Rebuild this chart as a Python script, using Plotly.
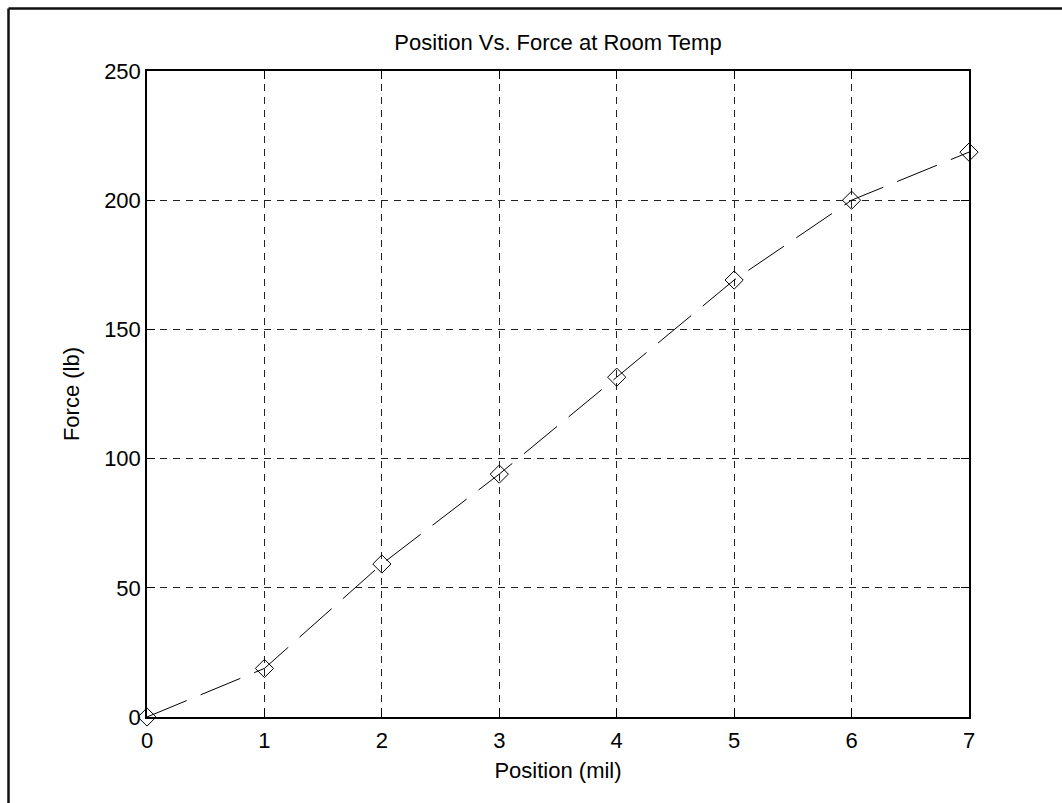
import plotly.graph_objects as go

# Measured force at each position step
position_mil = [0, 1, 2, 3, 4, 5, 6, 7]
force_lb = [0, 18.8, 59.2, 94.0, 131.5, 169.1, 200.0, 218.6]

x_ticks = [0, 1, 2, 3, 4, 5, 6, 7]
y_ticks = [0, 50, 100, 150, 200, 250]

FONT = "Liberation Sans, Arial, Helvetica, sans-serif"
W, H = 1062, 803
L, R, T, B = 147, 93, 71, 86

fig = go.Figure()
fig.add_trace(go.Scatter(
    x=position_mil,
    y=force_lb,
    mode="lines+markers",
    line=dict(color="black", width=1, dash="43px,15px"),
    marker=dict(symbol="diamond-open", size=14, color="black", line=dict(width=1, color="black")),
    cliponaxis=False,
    showlegend=False,
))

axis_common = dict(
    showline=True,
    linecolor="black",
    linewidth=1.5,
    mirror="ticks",
    ticks="inside",
    ticklen=8,
    tickwidth=1,
    tickcolor="black",
    showgrid=True,
    gridcolor="#222222",
    gridwidth=1,
    griddash="7px,6px",
    zeroline=False,
    tickfont=dict(family=FONT, size=22, color="black"),
)

fig.update_xaxes(
    range=[0, 7],
    tickvals=x_ticks,
    ticktext=[str(v) for v in x_ticks],
    ticklabelstandoff=3,
    title=dict(text="Position (mil)", font=dict(family=FONT, size=22, color="black"), standoff=10),
    **axis_common,
)
fig.update_yaxes(
    range=[0, 250],
    tickvals=y_ticks,
    ticktext=[str(v) for v in y_ticks],
    title=dict(text="Force (lb)", font=dict(family=FONT, size=22, color="black"), standoff=18),
    **axis_common,
)

fig.update_layout(
    width=W,
    height=H,
    margin=dict(l=L, r=R, t=T, b=B, autoexpand=False),
    paper_bgcolor="white",
    plot_bgcolor="white",
    title=dict(
        text="Position Vs. Force at Room Temp",
        font=dict(family=FONT, size=22, color="black"),
        x=(L + (W - L - R) / 2) / W,
        xanchor="center",
        y=1 - 42 / H,
        yanchor="middle",
    ),
    shapes=[
        # figure frame along the top and left edges
        dict(type="line", xref="paper", yref="paper", x0=-(L - 8.5) / (W - L - R), x1=(W - L) / (W - L - R),
             y0=1 + (T - 8.5) / (H - T - B), y1=1 + (T - 8.5) / (H - T - B),
             line=dict(color="#111111", width=2.5)),
        dict(type="line", xref="paper", yref="paper", x0=-(L - 8.5) / (W - L - R), x1=-(L - 8.5) / (W - L - R),
             y0=-B / (H - T - B), y1=1 + (T - 8.5) / (H - T - B),
             line=dict(color="#111111", width=2.5)),
    ],
)

fig.write_html("out.html")
